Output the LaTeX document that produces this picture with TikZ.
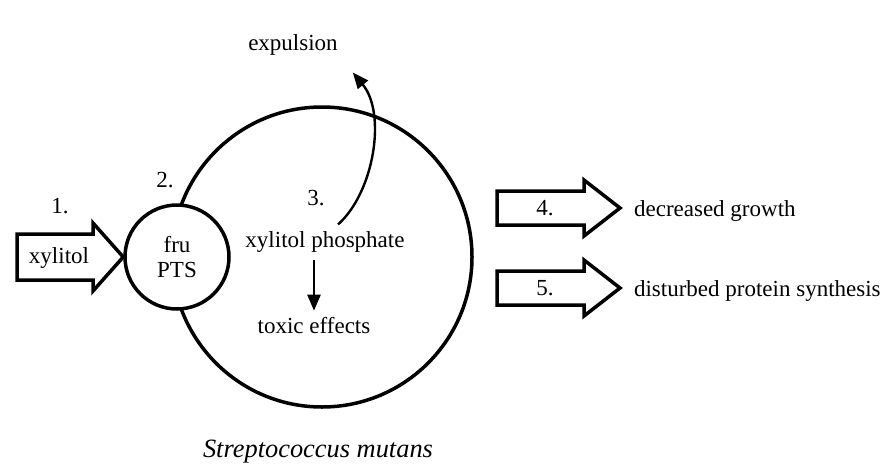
\documentclass[tikz,border=0pt]{standalone}
\usepackage{fontspec}
\setmainfont{Liberation Serif}
\usetikzlibrary{arrows.meta,calc,positioning}

\begin{document}
\begin{tikzpicture}
	[x=0.5pt,y=-0.5pt,
	 every node/.style={font=\fontsize{11.5}{12.5}\selectfont},
	 wall/.style={draw,circle,line width=1.75pt,inner sep=0pt},
	 fat/.style={draw,line width=1.75pt,line join=miter},
	 flow/.style={line width=1.2pt,-{Triangle[length=8pt,width=6.5pt]}}]
	\useasboundingbox (0,0) rectangle (888,466);
	% cell and transporter
	\node[wall,minimum size=150pt] (cell) at (322,257) {};
	\node[wall,fill=white,minimum size=52pt,align=center] (pts) at (177,257) {fru\\PTS};
	\draw[fat] (17,234) -- (93,234) -- (93,223) -- (pts.west) -- (93,291) -- (93,280) -- (17,280) -- cycle;
	\node (xyl) at (59,258) {xylitol};
	\node (one) at (60,206) {1.};
	\node (two) at (165,180) {2.};
	% inside the cell
	\node (three) at (316,198) {3.};
	\node (xp) at (325,242) {xylitol phosphate};
	\node (toxic) at (314,326) {toxic effects};
	\node (expul) at (293,45) {expulsion};
	\draw[flow] (xp.south -| toxic.north) -- (toxic.north);
	\draw[flow] ([xshift=6.5pt]xp.north) .. controls +(36,-32) and +(34,41) .. ($(expul.south east)+(8,10)$);
	\node[font=\fontsize{13.2}{15}\selectfont\itshape] (name) at (318,452) {Streptococcus mutans};
	% consequences
	\foreach \n/\y/\txt in {4/208/decreased growth,5/288/disturbed protein synthesis}{
		\draw[fat] (497,\y-17) -- (584,\y-17) -- (584,\y-28) -- (620,\y) -- (584,\y+28) -- (584,\y+17) -- (497,\y+17) -- cycle;
		\node (num\n) at (545,\y) {\n.};
		\node[anchor=west] (eff\n) at (627,\y+3) {\txt};
	}
\end{tikzpicture}
\end{document}
